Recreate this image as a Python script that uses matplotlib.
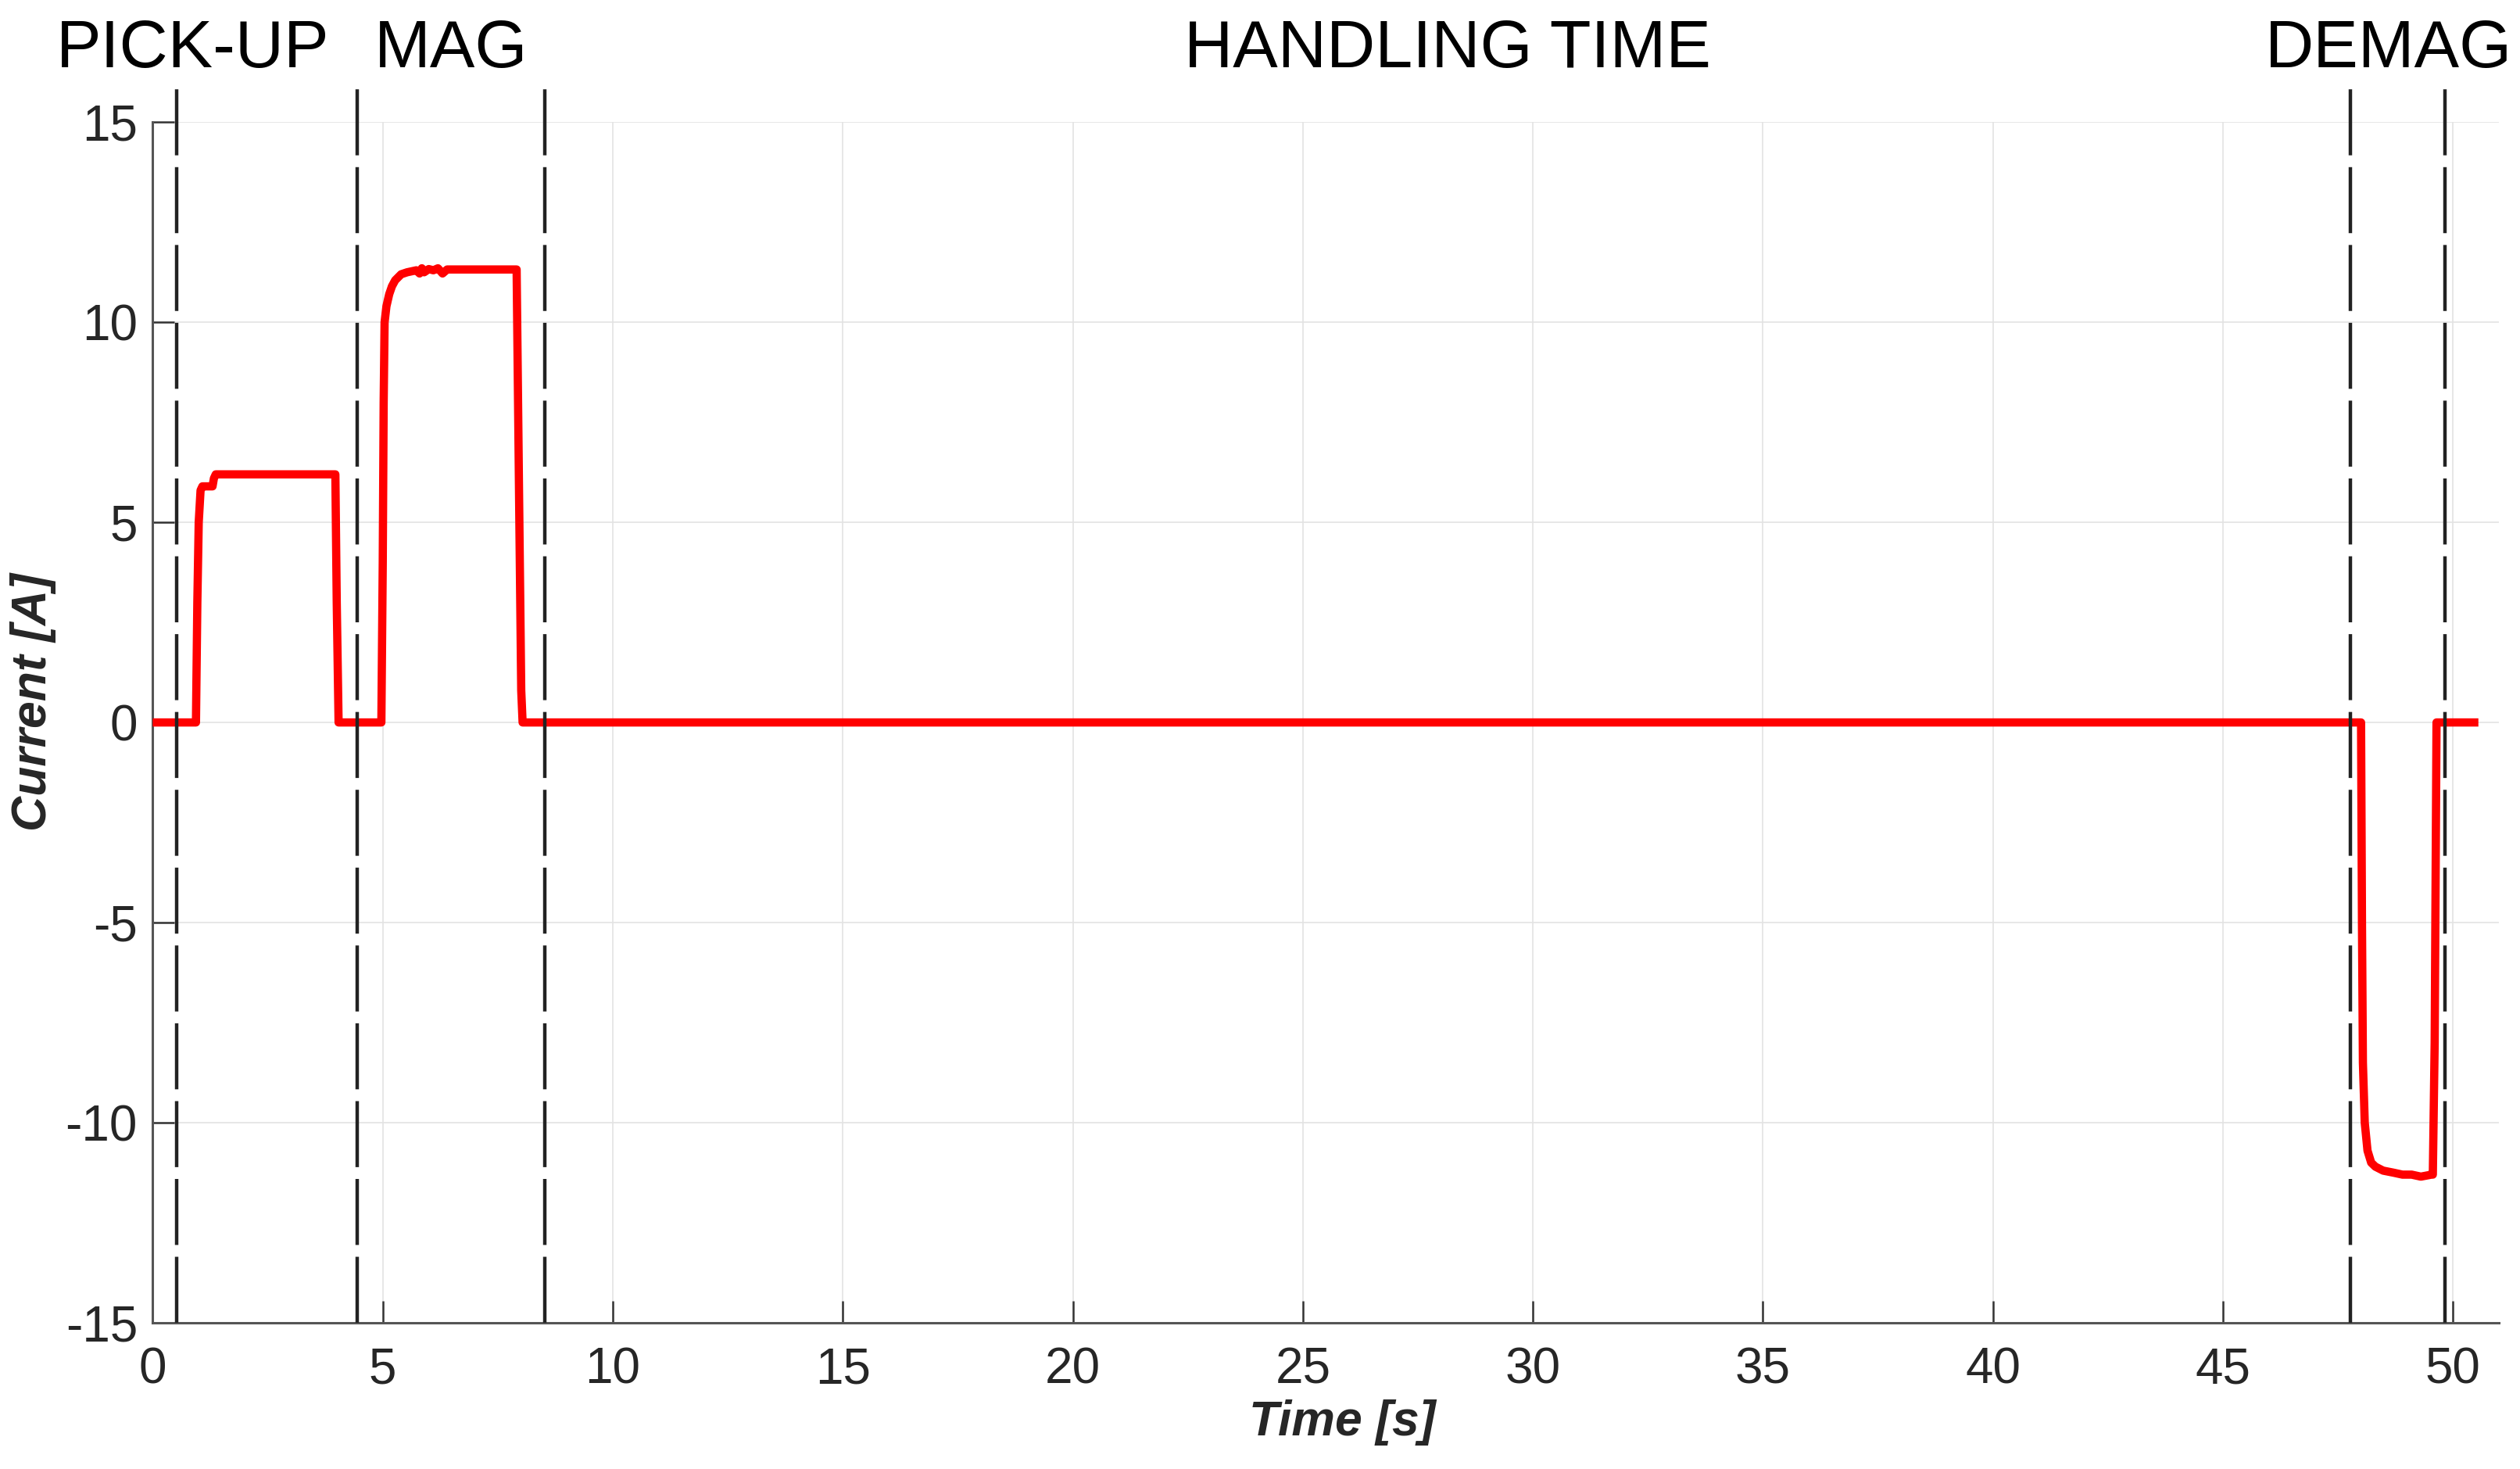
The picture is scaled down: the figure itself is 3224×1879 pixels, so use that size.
import numpy as np
import matplotlib
matplotlib.use('Agg')
import matplotlib.pyplot as plt

plt.rcParams['font.family'] = ['Liberation Sans', 'DejaVu Sans']
plt.rcParams['axes.unicode_minus'] = False

# current waveform (time [s], current [A])
time_s = [0.0, 0.94, 0.97, 1.00, 1.04, 1.08, 1.30, 1.33, 1.37, 3.97, 4.00, 4.04,
          4.97, 5.00, 5.02, 5.04, 5.08, 5.14, 5.20, 5.27, 5.40, 5.53, 5.73,
          5.80, 5.85, 5.90, 6.00, 6.10, 6.20, 6.30, 6.40, 7.91, 7.96, 8.01, 8.04,
          48.00, 48.02, 48.04, 48.08, 48.14, 48.22, 48.31, 48.48, 48.70, 48.90,
          49.10, 49.30, 49.53, 49.56, 49.60, 49.64, 50.55]
current_a = [0.0, 0.0, 3.0, 5.0, 5.8, 5.9, 5.9, 6.1, 6.2, 6.2, 3.0, 0.0,
             0.0, 4.0, 8.0, 10.0, 10.4, 10.7, 10.9, 11.05, 11.2, 11.25, 11.3,
             11.22, 11.35, 11.25, 11.33, 11.3, 11.35, 11.22, 11.32, 11.32, 6.0, 0.8, 0.0,
             0.0, -5.0, -8.5, -10.0, -10.7, -11.0, -11.1, -11.2, -11.25, -11.3,
             -11.3, -11.35, -11.3, -11.3, -8.0, 0.0, 0.0]

phase_bounds = [0.52, 4.44, 8.53, 47.76, 49.83]
phase_labels = ['PICK-UP', 'MAG', 'HANDLING TIME', 'DEMAG']
phase_label_x = [0.87, 6.48, 28.14, 48.6]

xticks = [0, 5, 10, 15, 20, 25, 30, 35, 40, 45, 50]
yticks = [-15, -10, -5, 0, 5, 10, 15]

fig = plt.figure(figsize=(16.12, 9.395), dpi=200)
ax = fig.add_axes([0.0606, 0.0996, 0.9311, 0.8172])

ax.plot(time_s, current_a, color='#ff0000', lw=3.8, solid_joinstyle='round',
        solid_capstyle='butt', zorder=3)

for xb in phase_bounds:
    ax.plot([xb, xb], [-15, 16.05], color='#222222', lw=1.6, dashes=(19, 3.4),
            clip_on=False, zorder=4)

for lab, xl in zip(phase_labels, phase_label_x):
    ax.text(xl, 16.8, lab, ha='center', va='center', fontsize=31, color='black')

ax.set_xlim(0, 51)
ax.set_ylim(-15, 15)
ax.set_xticks(xticks)
ax.set_yticks(yticks)
ax.tick_params(direction='in', length=10, width=0.9, color='#333333',
               labelsize=23, labelcolor='#262626')
ax.tick_params(axis='x', pad=11)
ax.tick_params(axis='y', pad=7)
ax.grid(True, color='#e3e3e3', lw=0.6)
ax.set_axisbelow(True)

for s in ['top', 'right']:
    ax.spines[s].set_visible(False)
for s in ['left', 'bottom']:
    ax.spines[s].set_color('#555555')
    ax.spines[s].set_linewidth(1.1)

ax.set_xlabel('Time [s]', fontsize=22.5, fontweight='bold', style='italic', color='#262626')
ax.set_ylabel('Current [A]', fontsize=22.5, fontweight='bold', style='italic', color='#262626')
ax.xaxis.set_label_coords(0.507, -0.064)
ax.yaxis.set_label_coords(-0.041, 0.517)

fig.savefig('out.png', dpi=200, facecolor='white')
